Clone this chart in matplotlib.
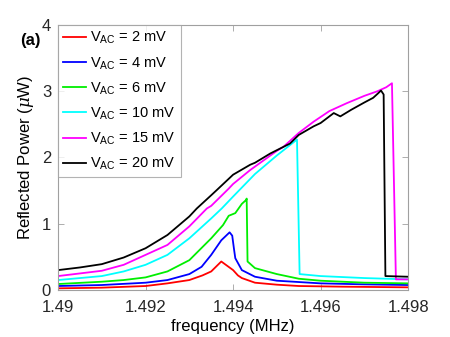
import matplotlib
matplotlib.use('Agg')
import matplotlib.pyplot as plt

plt.rcParams['font.family'] = ['Liberation Sans', 'DejaVu Sans']
plt.rcParams['mathtext.fontset'] = 'custom'
plt.rcParams['mathtext.rm'] = 'Liberation Sans'
plt.rcParams['mathtext.it'] = 'DejaVu Serif:italic'

# 2 mV
f_2 = [1.4900, 1.4910, 1.4920, 1.4925, 1.4930, 1.4933, 1.4935, 1.49373,
       1.4940, 1.49411, 1.4942, 1.4945, 1.4950, 1.4955, 1.4965, 1.4980]
p_2 = [0.025, 0.035, 0.06, 0.10, 0.15, 0.22, 0.28, 0.43,
       0.30, 0.22, 0.18, 0.11, 0.08, 0.06, 0.05, 0.04]

# 4 mV
f_4 = [1.4900, 1.4910, 1.4920, 1.4925, 1.4930, 1.49328, 1.4935, 1.49373, 1.49392,
       1.49398, 1.49402, 1.49405, 1.4942, 1.4945, 1.4950, 1.4955, 1.4960, 1.4970, 1.4980]
p_4 = [0.06, 0.075, 0.11, 0.15, 0.24, 0.35, 0.53, 0.75, 0.87,
       0.82, 0.62, 0.48, 0.30, 0.20, 0.14, 0.12, 0.10, 0.085, 0.075]

# 6 mV
f_6 = [1.4900, 1.4910, 1.4915, 1.4920, 1.4925, 1.4930, 1.4935, 1.49377, 1.4939, 1.49405,
       1.4942, 1.4943, 1.49431, 1.49433, 1.4945, 1.4950, 1.4955, 1.4960, 1.4970, 1.4980]
p_6 = [0.09, 0.125, 0.15, 0.19, 0.28, 0.45, 0.78, 0.98, 1.12, 1.16,
       1.30, 1.36, 1.38, 0.43, 0.33, 0.24, 0.17, 0.14, 0.11, 0.10]

# 10 mV
f_10 = [1.4900, 1.4905, 1.4910, 1.4915, 1.4920, 1.4925, 1.4930, 1.4935, 1.49374, 1.4940,
        1.4945, 1.4950, 1.49546, 1.49552, 1.4960, 1.4970, 1.4980]
p_10 = [0.15, 0.18, 0.21, 0.28, 0.38, 0.53, 0.78, 1.08, 1.23, 1.41,
        1.75, 2.03, 2.27, 0.24, 0.21, 0.18, 0.16]

# 15 mV
f_15 = [1.4900, 1.4905, 1.4910, 1.4915, 1.4920, 1.4925, 1.4930, 1.4934, 1.4935, 1.4939,
        1.4940, 1.49439, 1.4950, 1.49515, 1.4955, 1.49584, 1.4962, 1.4966, 1.4970, 1.4973,
        1.4975, 1.49763, 1.49772, 1.4980]
p_15 = [0.21, 0.25, 0.29, 0.38, 0.53, 0.68, 0.96, 1.23, 1.27, 1.53,
        1.60, 1.81, 2.10, 2.16, 2.37, 2.54, 2.70, 2.82, 2.93, 3.00,
        3.06, 3.12, 0.16, 0.16]

# 20 mV
f_20 = [1.4900, 1.4905, 1.4910, 1.4915, 1.4920, 1.4925, 1.4930, 1.49317, 1.4935, 1.49363,
        1.4940, 1.49439, 1.4945, 1.49485, 1.4953, 1.4955, 1.49584, 1.4960, 1.4963, 1.49645,
        1.4967, 1.4970, 1.4972, 1.4973, 1.49738, 1.49744, 1.49748, 1.4980]
p_20 = [0.30, 0.34, 0.39, 0.49, 0.63, 0.83, 1.11, 1.23, 1.43, 1.51,
        1.74, 1.89, 1.92, 2.06, 2.21, 2.34, 2.47, 2.52, 2.67, 2.62,
        2.72, 2.83, 2.90, 2.96, 3.01, 2.95, 0.21, 0.20]

series = [(f_2, p_2, '#ff0000', '2'), (f_4, p_4, '#0000ff', '4'),
          (f_6, p_6, '#00ee00', '6'), (f_10, p_10, '#00ffff', '10'),
          (f_15, p_15, '#ff00ff', '15'), (f_20, p_20, '#000000', '20')]

fig = plt.figure(figsize=(4.5, 3.37), dpi=100)
ax = fig.add_axes([0.129, 0.1395, 0.778, 0.7865])

for f, p, c, v in series:
    ax.plot(f, p, color=c, lw=1.3, label=r'V$_\mathregular{AC}$ = ' + v + ' mV')

ax.set_xlim(1.49, 1.498)
ax.set_ylim(0, 4)
ax.set_xticks([1.49, 1.492, 1.494, 1.496, 1.498])
ax.set_xticklabels(['1.49', '1.492', '1.494', '1.496', '1.498'])
ax.set_yticks([0, 1, 2, 3, 4])
ax.tick_params(direction='in', top=True, right=True, labelsize=12, labelcolor='#262626',
               color='#a0a0a0', length=4, width=0.6)
ax.tick_params(axis='x', pad=7)
ax.tick_params(axis='y', pad=5)
for s in ax.spines.values():
    s.set_color('#a0a0a0')
    s.set_linewidth(0.8)

ax.set_xlabel('frequency (MHz)', fontsize=12, labelpad=3)
ax.set_ylabel(r'Reflected Power ($\mu$W)', fontsize=12, labelpad=4)

leg = ax.legend(loc='upper left', fontsize=10.5, handlelength=1.6, handletextpad=0.25,
                labelspacing=0.6, borderaxespad=0, fancybox=False, borderpad=0.35)
leg.get_frame().set_edgecolor('#a0a0a0')
leg.get_frame().set_linewidth(0.8)

fig.text(0.045, 0.865, '(a)', fontsize=12, fontweight='bold')

fig.savefig('out.png', dpi=100)
